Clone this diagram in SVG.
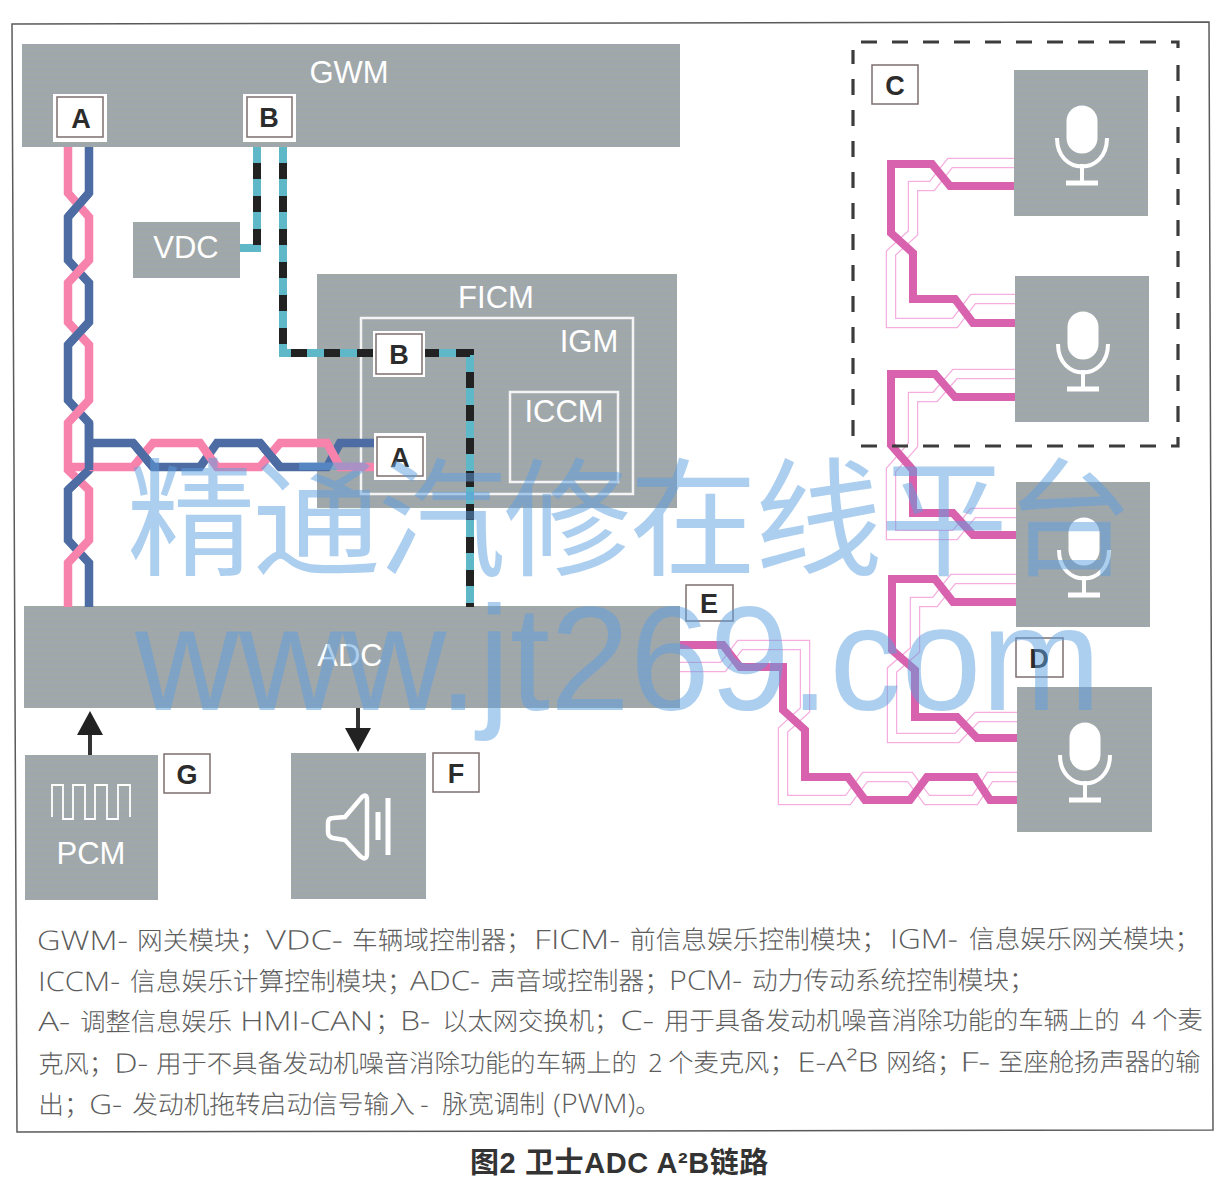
<svg xmlns="http://www.w3.org/2000/svg" width="1224" height="1197" viewBox="0 0 1224 1197">
<defs>
<pattern id="ht" width="4" height="4" patternUnits="userSpaceOnUse"><rect width="4" height="4" fill="#a1a9a6"/><rect y="0" width="4" height="2" fill="#9fa6ae"/></pattern>
<g id="mic" fill="none" stroke="#fff" stroke-width="4"><rect x="-14" y="-37" width="28" height="45" rx="14" fill="#fff" stroke-width="3"/><path d="M-25 -6 C-25 32 25 32 25 -6"/><path d="M0 20V39"/><path d="M-16 39H16" stroke-width="5"/></g>
</defs>
<style>
.box{fill:url(#ht)}
.lbl{font-family:"Liberation Sans","Noto Sans",sans-serif;fill:#fff;text-anchor:middle}
.key{font-family:"Liberation Sans",sans-serif;font-weight:700;font-size:27px;fill:#2c2c2c;text-anchor:middle}
.keybox{fill:#fff;stroke:#7d6f6f;stroke-width:1.5}
.keyhalo{fill:#fff}
.in{fill:none;stroke:#f4f4f4;stroke-width:2.5}
.w{fill:none;stroke-width:8.5;stroke-linejoin:miter}
.pink{stroke:#f783ad}
.blue{stroke:#4d6ca3}
.cy{fill:none;stroke:#5fb8c8;stroke-width:8}
.bk{fill:none;stroke:#222;stroke-width:8;stroke-dasharray:16 17;stroke-dashoffset:17}
.g1{fill:none;stroke:#f5aedf;stroke-width:10.5}
.g2{fill:none;stroke:#fff;stroke-width:8}
.th{fill:none;stroke:#d862ad;stroke-width:8}
.t{font-family:"Noto Sans","Noto Sans CJK SC",sans-serif;font-weight:300;font-size:25.7px;fill:#5c5c5c}
.l{font-family:"Open Sans","Noto Sans",sans-serif;font-weight:300;font-size:27px}
.cap{font-family:"Liberation Sans","Noto Sans CJK SC",sans-serif;font-weight:700;font-size:29px;letter-spacing:.6px;fill:#333}
.wm{font-family:"Noto Sans CJK SC",sans-serif;fill:#5ea0e0;opacity:.5}
</style>
<rect width="1224" height="1197" fill="#fff"/>
<path id="frame" d="M12 24L1209 22L1213 1130L17 1132Z" fill="none" stroke="#5a5a5a" stroke-width="1.5"/>

<g id="node-GWM"><rect class="box" x="22" y="44" width="658" height="103"/><text class="lbl" x="349" y="83" font-size="31">GWM</text></g>
<g id="node-VDC"><rect class="box" x="133" y="222" width="107" height="56"/><text class="lbl" x="186" y="258" font-size="31">VDC</text></g>
<g id="node-FICM"><rect class="box" x="317" y="274" width="360" height="234"/><text class="lbl" x="496" y="308" font-size="31">FICM</text>
<rect class="in" x="361" y="318" width="272" height="176"/><text class="lbl" x="589" y="352" font-size="31">IGM</text>
<rect class="in" x="510" y="392" width="108" height="90"/><text class="lbl" x="564" y="422" font-size="31">ICCM</text></g>
<g id="node-ADC"><rect class="box" x="24" y="606" width="656" height="102"/><text class="lbl" x="350" y="666" font-size="31">ADC</text></g>
<g id="node-PCM"><rect class="box" x="25" y="755" width="133" height="145"/><path d="M52 817V785H63V819H73V785H85V819H95V785H107V819H118V785H130V817" fill="none" stroke="#fff" stroke-width="1.8"/><text class="lbl" x="91" y="864" font-size="31">PCM</text></g>
<g id="node-speaker"><rect class="box" x="291" y="753" width="135" height="146"/><path d="M345 817L362 797Q367 793 367 800V853Q367 862 360 856L345 840L333 838Q328 837 328 832V823Q328 818 333 818Z" fill="none" stroke="#fff" stroke-width="4.5"/><path d="M378 812V840M388 798V855" stroke="#fff" stroke-width="5" fill="none"/></g>
<g id="node-mic1"><rect class="box" x="1014" y="70" width="134" height="146"/><use href="#mic" x="1082" y="144"/></g>
<g id="node-mic2"><rect class="box" x="1015" y="276" width="134" height="146"/><use href="#mic" x="1083" y="350"/></g>
<g id="node-mic3"><rect class="box" x="1016" y="482" width="134" height="145"/><use href="#mic" x="1084" y="556"/></g>
<g id="node-mic4"><rect class="box" x="1017" y="687" width="135" height="145"/><use href="#mic" x="1085" y="761"/></g>

<g id="connectors">
<path class="w blue" d="M89 147V193L68 217V260L89 283V322L68 345V400L89 423V470L68 490V540L89 563V607"/>
<path class="w blue" d="M89 443H133L153 467H200L217 443H260L280 467H327L340 443H378"/>
<path class="w pink" d="M68 147V193L89 217V260L68 283V322L89 345V400L68 423V470L89 490V540L68 563V607"/>
<path class="w pink" d="M68 467H133L153 443H200L217 467H260L280 443H327L340 467H378"/>
<path class="w blue" d="M89 193L68 217M89 322L68 345M89 470L68 490M133 443L153 467M260 443L280 467"/>
<path class="w blue" d="M89 423V470"/>
<path class="cy" d="M257 147V248H240"/><path class="bk" d="M257 147V251"/>
<path class="cy" d="M283 147V353H470V607"/><path class="bk" d="M283 147V353H470V607"/>
<path class="g1" d="M1014 163H950L932 186H913V233L891 253V323H955L973 299H1015"/><path class="g2" d="M1014 163H950L932 186H913V233L891 253V323H955L973 299H1015"/>
<path class="th" d="M1014 186H950L932 164H891V233L913 253V299H955L973 323H1015"/>
<path class="g1" d="M1015 374H955L935 397H913V445L891 470V535H955L973 513H1016"/><path class="g2" d="M1015 374H955L935 397H913V445L891 470V535H955L973 513H1016"/>
<path class="th" d="M1015 397H955L935 374H891V445L913 470V513H953L973 535H1016"/>
<path class="g1" d="M1016 579H953L935 602H915V650L892 670V738H957L977 717H1017"/><path class="g2" d="M1016 579H953L935 602H915V650L892 670V738H957L977 717H1017"/>
<path class="th" d="M1016 602H953L935 579H892V650L915 670V717H957L977 738H1017"/>
<path class="g1" d="M680 667H723L740 645H805V710L783 730V800H848L865 777H910L927 800H975L990 777H1017"/><path class="g2" d="M680 667H723L740 645H805V710L783 730V800H848L865 777H910L927 800H975L990 777H1017"/>
<path class="th" d="M680 645H723L740 667H783V710L805 730V777H848L865 800H910L927 777H975L990 800H1017"/>
<path d="M90 755V733" stroke="#333" stroke-width="4" fill="none"/><path d="M90 711L103 735H77Z" fill="#222"/>
<path d="M358 708V730" stroke="#333" stroke-width="4" fill="none"/><path d="M358 752L345 728H371Z" fill="#222"/>
</g>

<g id="node-C-box"><path d="M861 42H1178V48M1178 65V446H855M853 436V50" fill="none" stroke="#3c3c3c" stroke-width="3.2" stroke-dasharray="16 15"/></g>

<g id="key-A1"><rect class="keyhalo" x="53" y="94" width="54" height="48"/><rect class="keybox" x="57" y="97" width="46" height="40"/><text class="key" x="81" y="128">A</text></g>
<g id="key-B1"><rect class="keyhalo" x="243" y="94" width="53" height="48"/><rect class="keybox" x="247" y="97" width="45" height="40"/><text class="key" x="269" y="127">B</text></g>
<g id="key-B2"><rect class="keyhalo" x="373" y="331" width="52" height="46"/><rect class="keybox" x="376" y="334" width="46" height="40"/><text class="key" x="399" y="364">B</text></g>
<g id="key-A2"><rect class="keyhalo" x="374" y="433" width="52" height="47"/><rect class="keybox" x="377" y="437" width="46" height="39"/><text class="key" x="400" y="467">A</text></g>
<g id="key-C"><rect class="keybox" x="872" y="65" width="46" height="39"/><text class="key" x="895" y="95">C</text></g>
<g id="key-D"><rect class="keybox" x="1016" y="638" width="47" height="39"/><text class="key" x="1039" y="668">D</text></g>
<g id="key-E"><rect class="keybox" x="686" y="585" width="47" height="36"/><text class="key" x="709" y="613">E</text></g>
<g id="key-F"><rect class="keybox" x="433" y="753" width="46" height="39"/><text class="key" x="456" y="783">F</text></g>
<g id="key-G"><rect class="keybox" x="164" y="754" width="46" height="39"/><text class="key" x="187" y="784">G</text></g>

<g id="legend" transform="rotate(-0.1 37 950)">
<text class="t" y="950"><tspan class="l" x="37" textLength="91" lengthAdjust="spacingAndGlyphs">GWM-</tspan><tspan x="137">网关模块；</tspan><tspan class="l" x="266" textLength="77" lengthAdjust="spacingAndGlyphs">VDC-</tspan><tspan x="352">车辆域控制器；</tspan><tspan class="l" x="534" textLength="86" lengthAdjust="spacingAndGlyphs">FICM-</tspan><tspan x="630">前信息娱乐控制模块；</tspan><tspan class="l" x="890" textLength="68" lengthAdjust="spacingAndGlyphs">IGM-</tspan><tspan x="969">信息娱乐网关模块；</tspan></text>
<text class="t" y="991"><tspan class="l" x="38" textLength="82" lengthAdjust="spacingAndGlyphs">ICCM-</tspan><tspan x="130">信息娱乐计算控制模块；</tspan><tspan class="l" x="410" textLength="70" lengthAdjust="spacingAndGlyphs">ADC-</tspan><tspan x="490">声音域控制器；</tspan><tspan class="l" x="669" textLength="73" lengthAdjust="spacingAndGlyphs">PCM-</tspan><tspan x="752">动力传动系统控制模块；</tspan></text>
<text class="t" y="1031" style="font-size:25.3px"><tspan class="l" x="38" textLength="32" lengthAdjust="spacingAndGlyphs">A-</tspan><tspan x="80">调整信息娱乐</tspan><tspan class="l" x="240" textLength="133" lengthAdjust="spacingAndGlyphs">HMI-CAN</tspan><tspan x="375">；</tspan><tspan class="l" x="400" textLength="30" lengthAdjust="spacingAndGlyphs">B-</tspan><tspan x="442">以太网交换机；</tspan><tspan class="l" x="620" textLength="34" lengthAdjust="spacingAndGlyphs">C-</tspan><tspan x="664">用于具备发动机噪音消除功能的车辆上的</tspan><tspan x="1131">4</tspan><tspan x="1152">个麦</tspan></text>
<text class="t" y="1073" style="font-size:25.3px"><tspan x="38">克风；</tspan><tspan class="l" x="114" textLength="34" lengthAdjust="spacingAndGlyphs">D-</tspan><tspan x="156">用于不具备发动机噪音消除功能的车辆上的</tspan><tspan x="648">2</tspan><tspan x="668">个麦克风；</tspan><tspan class="l" x="797" textLength="81" lengthAdjust="spacingAndGlyphs">E-A²B</tspan><tspan x="886">网络；</tspan><tspan class="l" x="960" textLength="30" lengthAdjust="spacingAndGlyphs">F-</tspan><tspan x="998">至座舱扬声器的输</tspan></text>
<text class="t" y="1114"><tspan x="38">出；</tspan><tspan class="l" x="89" textLength="33" lengthAdjust="spacingAndGlyphs">G-</tspan><tspan x="132">发动机拖转启动信号输入</tspan><tspan x="420">-</tspan><tspan x="442">脉宽调制</tspan><tspan class="l" x="553" textLength="82" lengthAdjust="spacingAndGlyphs">(PWM)</tspan><tspan x="635">。</tspan></text>
</g>
<text id="caption" class="cap" x="470" y="1173">图2 卫士ADC A²B链路</text>
<g id="watermark">
<text class="wm" x="127" y="566" font-size="128" letter-spacing="-2.5">精通汽修在线平台</text>
<text class="wm" x="135" y="710" font-size="148" textLength="966" lengthAdjust="spacingAndGlyphs" style="font-family:'Liberation Sans',sans-serif">www.jt269.com</text>
</g>
</svg>
